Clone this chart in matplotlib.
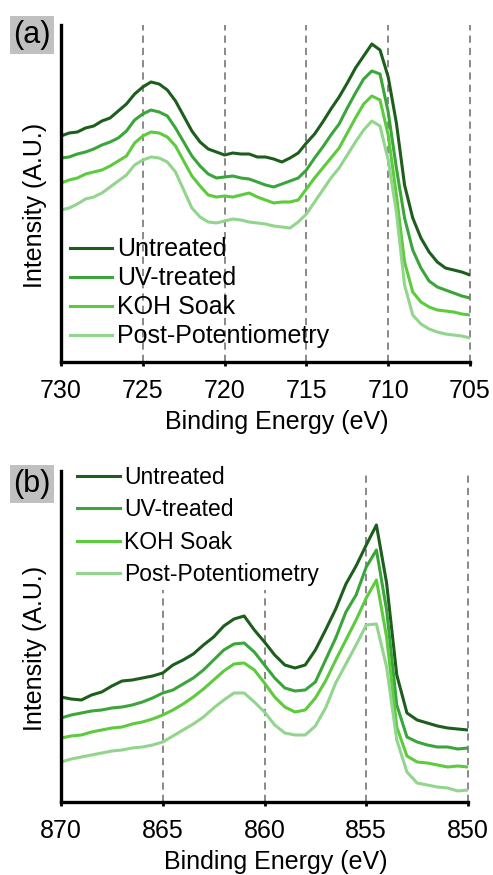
import numpy as np
import matplotlib.pyplot as plt

plt.rcParams['font.family'] = ['Liberation Sans', 'DejaVu Sans']

# Sample labels and line colours (dark -> light)
series_names = ['Untreated', 'UV-treated', 'KOH Soak', 'Post-Potentiometry']
colors = ['#1d5e1d', '#3aa63a', '#5ccb3c', '#92d58c']

# Fe 2p region, 730 -> 705 eV in 0.5 eV steps
energy_fe = np.arange(730, 704.9, -0.5)
fe_untreated = [226, 229, 230, 234, 236, 241, 244, 251, 258, 268, 275, 280, 278, 272, 261,
                246, 231, 220, 213, 210, 207, 209, 208, 208, 205, 205, 203, 200, 204, 209,
                219, 228, 240, 253, 265, 279, 294, 306, 318, 312, 285, 239, 177, 144, 124,
                110, 100, 94, 92, 90, 87]
fe_uv = [204, 205, 208, 210, 213, 217, 220, 224, 231, 242, 248, 252, 250, 246, 234,
         220, 206, 196, 188, 184, 185, 186, 184, 183, 180, 177, 175, 178, 181, 184,
         192, 204, 215, 227, 238, 254, 269, 283, 291, 288, 250, 194, 144, 112, 94,
         81, 75, 72, 69, 66, 64]
fe_koh = [179, 182, 184, 188, 190, 192, 196, 201, 206, 219, 226, 230, 229, 225, 216,
          201, 186, 176, 167, 165, 166, 165, 167, 169, 165, 162, 159, 160, 160, 162,
          173, 184, 194, 204, 214, 229, 244, 258, 266, 262, 227, 167, 100, 70, 60,
          55, 52, 51, 50, 48, 47]
fe_post = [152, 154, 158, 163, 165, 169, 175, 181, 187, 197, 202, 205, 204, 200, 190,
           172, 154, 145, 140, 139, 141, 143, 142, 140, 139, 138, 136, 135, 134, 140,
           148, 160, 172, 184, 194, 207, 220, 232, 241, 236, 202, 150, 77, 47, 38,
           33, 30, 28, 27, 26, 24]

# Ni 2p region, 870 -> 850 eV in 0.5 eV steps
energy_ni = np.arange(870, 849.9, -0.5)
ni_untreated = [105, 103, 102, 107, 110, 116, 121, 122, 124, 126, 129, 137, 142, 148, 157,
                165, 176, 183, 186, 172, 160, 147, 137, 134, 137, 152, 172, 193, 218, 236,
                257, 277, 219, 127, 89, 82, 79, 76, 74, 73, 72]
ni_uv = [84, 87, 89, 91, 92, 94, 95, 97, 100, 104, 109, 112, 118, 124, 132,
         142, 152, 158, 159, 150, 137, 124, 114, 111, 112, 120, 142, 164, 190, 207,
         235, 252, 192, 97, 65, 60, 57, 55, 55, 53, 54]
ni_koh = [64, 66, 67, 70, 72, 74, 75, 78, 80, 83, 87, 92, 98, 105, 113,
          122, 131, 138, 139, 132, 119, 105, 95, 90, 92, 104, 121, 142, 162, 182,
          204, 222, 165, 75, 46, 40, 39, 37, 35, 36, 35]
ni_post = [40, 43, 45, 47, 49, 51, 52, 54, 55, 57, 60, 66, 72, 78, 85,
           94, 102, 109, 109, 100, 90, 77, 69, 67, 67, 76, 94, 119, 138, 157,
           177, 178, 135, 62, 30, 19, 17, 15, 14, 11, 12]

fe_ticks = [730, 725, 720, 715, 710, 705]
ni_ticks = [870, 865, 860, 855, 850]

fig = plt.figure(figsize=(4.93, 8.75), dpi=100)
ax_a = fig.add_axes([61 / 493, 513 / 875, 409 / 493, 337 / 875])
ax_b = fig.add_axes([61 / 493, 73 / 875, 407 / 493, 331 / 875])


def style_axes(ax, ticks):
    for side in ['top', 'right']:
        ax.spines[side].set_visible(False)
    for side in ['left', 'bottom']:
        ax.spines[side].set_linewidth(2.4)
    ax.set_yticks([])
    ax.set_xticks(ticks)
    ax.set_xlim(ticks[0], ticks[-1])
    ax.tick_params(axis='x', direction='out', length=3, width=2, labelsize=18, pad=9)
    ax.set_xlabel('Binding Energy (eV)', fontsize=18)
    ax.set_ylabel('Intensity (A.U.)', fontsize=18)
    ax.yaxis.set_label_coords(-0.035, 0.465)


def guide_line(ax, x, ymax=1.0):
    ax.axvline(x, ymin=0, ymax=ymax, color='#808080', lw=1.3,
               ls=(0, (4, 2.8)), zorder=1, clip_on=False)


# (a) Fe 2p
style_axes(ax_a, fe_ticks)
ax_a.set_ylim(0, 337)
for x in fe_ticks[1:]:
    guide_line(ax_a, x)
for y, c, name in zip([fe_untreated, fe_uv, fe_koh, fe_post], colors, series_names):
    ax_a.plot(energy_fe, y, color=c, lw=2.2, label=name, zorder=2)
ax_a.legend(loc='center left', bbox_to_anchor=(0.022, 0.205), frameon=False,
            fontsize=18, handlelength=1.7, handletextpad=0.2, labelspacing=0.2,
            borderpad=0, borderaxespad=0)
ax_a.xaxis.set_label_coords(0.528, -0.142)

# (b) Ni 2p
style_axes(ax_b, ni_ticks)
ax_b.set_ylim(0, 331)
guide_line(ax_b, 865, 0.64)
guide_line(ax_b, 860, 0.64)
guide_line(ax_b, 855)
guide_line(ax_b, 850)
for y, c, name in zip([ni_untreated, ni_uv, ni_koh, ni_post], colors, series_names):
    ax_b.plot(energy_ni, y, color=c, lw=2.2, label=name, zorder=2)
ax_b.legend(loc='center left', bbox_to_anchor=(0.039, 0.834), frameon=False,
            fontsize=16.5, handlelength=1.87, handletextpad=0.2, labelspacing=0.4,
            borderpad=0, borderaxespad=0)
ax_b.xaxis.set_label_coords(0.528, -0.145)

# panel tags
box = dict(boxstyle='square,pad=0.12', fc='#c0c0c0', ec='none')
fig.text(32 / 493, 1 - 35 / 875, '(a)', fontsize=22, ha='center', va='center', bbox=box)
fig.text(32 / 493, 1 - 484 / 875, '(b)', fontsize=22, ha='center', va='center', bbox=box)

fig.savefig('out.png', dpi=100)
